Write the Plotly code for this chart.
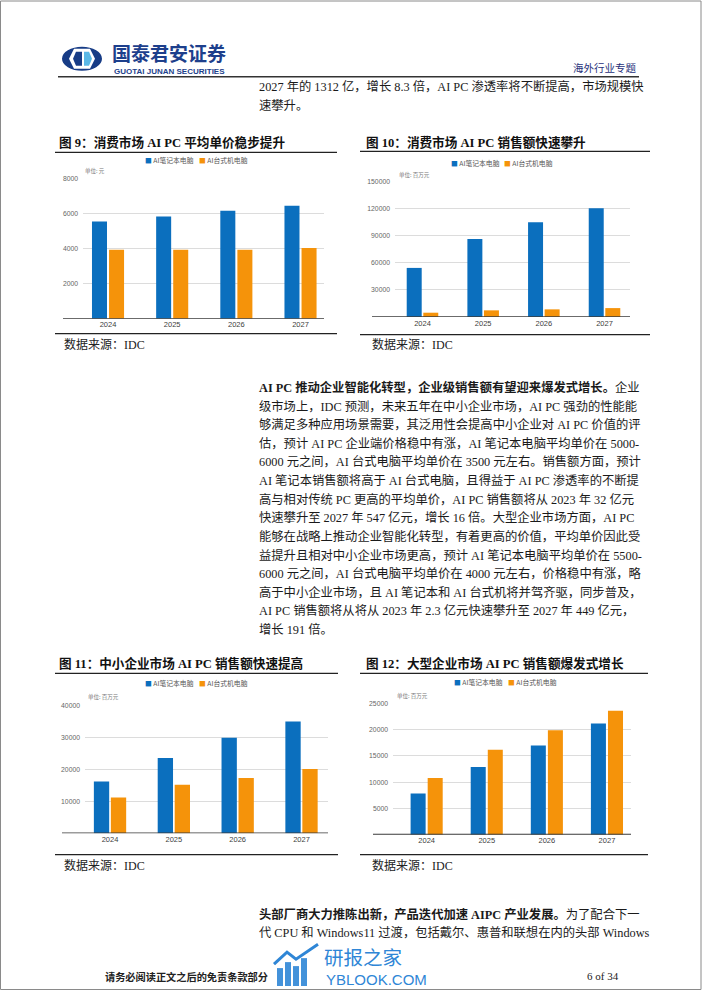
import plotly.graph_objects as go

W, H = 702, 991

# ---------------- data ----------------
years = ["2024", "2025", "2026", "2027"]
series_names = ["AI笔记本电脑", "AI台式机电脑"]

# 图9 消费市场平均单价 (元)
consumer_price_notebook = [5560, 5850, 6170, 6460]
consumer_price_desktop = [3940, 3940, 3940, 4040]
# 图10 消费市场销售额 (百万元)
consumer_sales_notebook = [54400, 86400, 105100, 120600]
consumer_sales_desktop = [4800, 7400, 8500, 9900]
# 图11 中小企业市场销售额 (百万元)
smb_sales_notebook = [16200, 23500, 29800, 34900]
smb_sales_desktop = [11200, 15200, 17300, 20100]
# 图12 大型企业市场销售额 (百万元)
large_sales_notebook = [7850, 12900, 17000, 21200]
large_sales_desktop = [10800, 16200, 19900, 23600]

ticks9 = [2000, 4000, 6000, 8000]
ticks10 = [30000, 60000, 90000, 120000, 150000]
ticks11 = [10000, 20000, 30000, 40000]
ticks12 = [5000, 10000, 15000, 20000, 25000]

BLUE = "#0B6FBE"
ORANGE = "#F5930A"
SERIF = "Liberation Serif, Noto Sans CJK SC"
SANS = "Noto Sans CJK SC, Liberation Sans"


def px(x):
    return x / W


def py(y):
    return 1 - y / H


fig = go.Figure()
annotations = []
shapes = []

charts = [
    dict(k="", nb=consumer_price_notebook, dt=consumer_price_desktop, ticks=ticks9, ymax=8000,
         xd=(83, 324), yd=(175.5, 316), xr=[-0.39, 3.366], w=0.234, g=0.016, base=(63, 324),
         title="图 9：消费市场 AI PC 平均单价稳步提升", tx=57, ty=139, rule=(55, 337, 149), bot=331, src=(62, 342),
         leg=(143, 197, 157), unit="单位: 元", ux=83, uy=168),
    dict(k="2", nb=consumer_sales_notebook, dt=consumer_sales_desktop, ticks=ticks10, ymax=150000,
         xd=(395, 630), yd=(178.3, 314.3), xr=[-0.453, 3.42], w=0.247, g=0.013, base=(372, 630),
         title="图 10：消费市场 AI PC 销售额快速攀升", tx=364, ty=139, rule=(360, 650, 148), bot=332, src=(370, 342),
         leg=(449, 502, 160), unit="单位: 百万元", ux=397, uy=172),
    dict(k="3", nb=smb_sales_notebook, dt=smb_sales_desktop, ticks=ticks11, ymax=40000,
         xd=(85, 328), yd=(704, 832.7), xr=[-0.392, 3.415], w=0.24, g=0.013, base=(62, 328),
         title="图 11：中小企业市场 AI PC 销售额快速提高", tx=57, ty=662, rule=(55, 338, 672), bot=854, src=(62, 865),
         leg=(143, 197, 682), unit="单位: 百万元", ux=86, uy=696),
    dict(k="4", nb=large_sales_notebook, dt=large_sales_desktop, ticks=ticks12, ymax=25000,
         xd=(393, 631), yd=(702.3, 834), xr=[-0.56, 3.4], w=0.25, g=0.017, base=(373, 631),
         title="图 12：大型企业市场 AI PC 销售额爆发式增长", tx=364, ty=662, rule=(360, 648, 672), bot=854, src=(370, 865),
         leg=(452, 506, 681), unit="单位: 百万元", ux=395, uy=695),
]

layout_axes = {}
for c in charts:
    k = c["k"]
    xa, ya = "x" + k, "y" + k
    fig.add_trace(go.Bar(x=years, y=c["nb"], name=series_names[0], xaxis=xa, yaxis=ya,
                         marker=dict(color=BLUE, line=dict(width=0)), width=c["w"],
                         offset=-c["w"] - c["g"], showlegend=False, hoverinfo="x+y"))
    fig.add_trace(go.Bar(x=years, y=c["dt"], name=series_names[1], xaxis=xa, yaxis=ya,
                         marker=dict(color=ORANGE, line=dict(width=0)), width=c["w"],
                         offset=c["g"], showlegend=False, hoverinfo="x+y"))
    layout_axes["xaxis" + k] = dict(
        domain=[px(c["xd"][0]), px(c["xd"][1])], range=c["xr"], anchor=ya,
        showgrid=False, showline=False, zeroline=False, ticks="", type="category",
        tickfont=dict(family="Liberation Sans", size=7.5, color="#404040"), fixedrange=True,
    )
    layout_axes["yaxis" + k] = dict(
        domain=[py(c["yd"][1]), py(c["yd"][0])], range=[0, c["ymax"]], anchor=xa,
        tickvals=c["ticks"], ticktext=[str(v) for v in c["ticks"]],
        showgrid=True, gridcolor="#dcdcdc", gridwidth=0.8, showline=False, zeroline=False,
        ticks="", ticklabelstandoff=4,
        tickfont=dict(family="Liberation Sans", size=6.8, color="#666666"), fixedrange=True,
    )
    shapes.append(dict(type="line", xref="paper", yref=ya, x0=px(c["base"][0]), x1=px(c["base"][1]),
                       y0=0, y1=0, line=dict(color="#3a3a3a", width=1.6)))
    annotations.append(dict(text="<b>" + c["title"] + "</b>", x=px(c["tx"]), y=py(c["ty"]),
                            xref="paper", yref="paper", xanchor="left", yanchor="middle", showarrow=False,
                            font=dict(family=SERIF, size=12.6, color="#111111")))
    r = c["rule"]
    shapes.append(dict(type="line", xref="paper", yref="paper", x0=px(r[0]), x1=px(r[1]),
                       y0=py(r[2]), y1=py(r[2]), line=dict(color="#222222", width=1.3)))
    shapes.append(dict(type="line", xref="paper", yref="paper", x0=px(r[0]), x1=px(r[1]),
                       y0=py(c["bot"]), y1=py(c["bot"]), line=dict(color="#222222", width=1.3)))
    annotations.append(dict(text="数据来源：IDC", x=px(c["src"][0]), y=py(c["src"][1]),
                            xref="paper", yref="paper", xanchor="left", yanchor="middle", showarrow=False,
                            font=dict(family=SERIF, size=12, color="#222222")))
    lx1, lx2, ly = c["leg"]
    for lx, col, nm in ((lx1, BLUE, series_names[0]), (lx2, ORANGE, series_names[1])):
        annotations.append(dict(text="<span style='color:%s'>■</span> %s" % (col, nm),
                                x=px(lx), y=py(ly), xref="paper", yref="paper", xanchor="left",
                                yanchor="middle", showarrow=False,
                                font=dict(family=SANS, size=6.8, color="#555555")))
    annotations.append(dict(text=c["unit"], x=px(c["ux"]), y=py(c["uy"]), xref="paper", yref="paper",
                            xanchor="left", yanchor="middle", showarrow=False,
                            font=dict(family=SANS, size=5.5, color="#777777")))

# ---------------- header ----------------
shapes.append(dict(type="circle", xref="paper", yref="paper", x0=px(62), x1=px(102), y0=py(67), y1=py(43),
                   fillcolor="#173c86", line=dict(width=0)))
shapes.append(dict(type="path", xref="paper", yref="paper",
                   path="M %f %f L %f %f L %f %f L %f %f L %f %f L %f %f Z" % (
                       px(74), py(45), px(90), py(45), px(95), py(55), px(90), py(65), px(74), py(65), px(69), py(55)),
                   fillcolor="white", line=dict(width=0)))
shapes.append(dict(type="path", xref="paper", yref="paper",
                   path="M %f %f L %f %f L %f %f L %f %f L %f %f Z" % (
                       px(76), py(48), px(82), py(48), px(82), py(62), px(76), py(62), px(73), py(55)),
                   fillcolor="#173c86", line=dict(width=0)))
shapes.append(dict(type="path", xref="paper", yref="paper",
                   path="M %f %f L %f %f L %f %f L %f %f L %f %f Z" % (
                       px(84), py(48), px(89), py(48), px(92), py(55), px(89), py(62), px(84), py(62)),
                   fillcolor="#5ab8e6", line=dict(width=0)))
annotations.append(dict(text="<b>国泰君安证券</b>", x=px(110), y=py(49), xref="paper", yref="paper",
                        xanchor="left", yanchor="middle", showarrow=False,
                        font=dict(family=SANS, size=19, color="#1d3f8c")))
annotations.append(dict(text="<b>GUOTAI JUNAN SECURITIES</b>", x=px(112), y=py(67.5), xref="paper", yref="paper",
                        xanchor="left", yanchor="middle", showarrow=False,
                        font=dict(family="Liberation Sans", size=8, color="#1d3f8c")))
annotations.append(dict(text="海外行业专题", x=px(639), y=py(64), xref="paper", yref="paper",
                        xanchor="right", yanchor="middle", showarrow=False,
                        font=dict(family=SANS, size=10.5, color="#26307a")))
shapes.append(dict(type="line", xref="paper", yref="paper", x0=px(58), x1=px(639), y0=py(73), y1=py(73),
                   line=dict(color="#333333", width=1.5)))

# ---------------- body text ----------------
body_font = dict(family=SERIF, size=12.3, color="#1a1a1a")
TX = 257
top_lines = [
    "2027 年的 1312 亿，增长 8.3 倍，AI PC 渗透率将不断提高，市场规模快",
    "速攀升。",
]
for i, t in enumerate(top_lines):
    annotations.append(dict(text=t, x=px(TX), y=py(83 + 19 * i), xref="paper", yref="paper",
                            xanchor="left", yanchor="middle", showarrow=False, font=body_font))

para_lines = [
    "<b>AI PC 推动企业智能化转型，企业级销售额有望迎来爆发式增长。</b>企业",
    "级市场上，IDC 预测，未来五年在中小企业市场，AI PC 强劲的性能能",
    "够满足多种应用场景需要，其泛用性会提高中小企业对 AI PC 价值的评",
    "估，预计 AI PC 企业端价格稳中有涨，AI 笔记本电脑平均单价在 5000-",
    "6000 元之间，AI 台式电脑平均单价在 3500 元左右。销售额方面，预计",
    "AI 笔记本销售额将高于 AI 台式电脑，且得益于 AI PC 渗透率的不断提",
    "高与相对传统 PC 更高的平均单价，AI PC 销售额将从 2023 年 32 亿元",
    "快速攀升至 2027 年 547 亿元，增长 16 倍。大型企业市场方面，AI PC",
    "能够在战略上推动企业智能化转型，有着更高的价值，平均单价因此受",
    "益提升且相对中小企业市场更高，预计 AI 笔记本电脑平均单价在 5500-",
    "6000 元之间，AI 台式电脑平均单价在 4000 元左右，价格稳中有涨，略",
    "高于中小企业市场，且 AI 笔记本和 AI 台式机将并驾齐驱，同步普及，",
    "AI PC 销售额将从将从 2023 年 2.3 亿元快速攀升至 2027 年 449 亿元，",
    "增长 191 倍。",
]
for i, t in enumerate(para_lines):
    annotations.append(dict(text=t, x=px(TX), y=py(385 + 18.7 * i), xref="paper", yref="paper",
                            xanchor="left", yanchor="middle", showarrow=False, font=body_font))

bottom_lines = [
    "<b>头部厂商大力推陈出新，产品迭代加速 AIPC 产业发展。</b>为了配合下一",
    "代 CPU 和 Windows11 过渡，包括戴尔、惠普和联想在内的头部 Windows",
]
for i, t in enumerate(bottom_lines):
    annotations.append(dict(text=t, x=px(TX), y=py(914 + 18.3 * i), xref="paper", yref="paper",
                            xanchor="left", yanchor="middle", showarrow=False, font=body_font))

# ---------------- footer ----------------
annotations.append(dict(text="<b>请务必阅读正文之后的免责条款部分</b>", x=px(103), y=py(976), xref="paper", yref="paper",
                        xanchor="left", yanchor="middle", showarrow=False,
                        font=dict(family=SANS, size=10.2, color="#222222")))
annotations.append(dict(text="6 of 34", x=px(621), y=py(976), xref="paper", yref="paper",
                        xanchor="right", yanchor="middle", showarrow=False,
                        font=dict(family=SERIF, size=11, color="#222222")))
# watermark
WM = "#2f86d6"
for (x0, y0) in ((277, 968), (285, 962), (293, 966), (301, 958)):
    shapes.append(dict(type="rect", xref="paper", yref="paper", x0=px(x0), x1=px(x0 + 6),
                       y0=py(986), y1=py(y0), fillcolor=WM, line=dict(width=0), opacity=0.9))
shapes.append(dict(type="path", xref="paper", yref="paper",
                   path="M %f %f L %f %f L %f %f L %f %f" % (px(274), py(964), px(287), py(952), px(296), py(959),
                                                             px(318), py(944)),
                   line=dict(color=WM, width=3)))
annotations.append(dict(text="研报之家", x=px(322), y=py(956), xref="paper", yref="paper",
                        xanchor="left", yanchor="middle", showarrow=False,
                        font=dict(family=SANS, size=19.5, color=WM)))
annotations.append(dict(text="YBLOOK.COM", x=px(324), y=py(979), xref="paper", yref="paper",
                        xanchor="left", yanchor="middle", showarrow=False,
                        font=dict(family="Liberation Sans", size=15, color=WM)))

# page frame
shapes.append(dict(type="rect", xref="paper", yref="paper", x0=px(0.5), x1=px(701), y0=py(989.5), y1=py(-3),
                   line=dict(color="#8a8a8a", width=1), fillcolor="rgba(0,0,0,0)"))

fig.update_layout(
    width=W, height=H, margin=dict(l=0, r=0, t=0, b=0),
    paper_bgcolor="white", plot_bgcolor="white",
    barmode="group", showlegend=False,
    annotations=annotations, shapes=shapes,
    **layout_axes,
)

fig.write_html("out.html", config=dict(displayModeBar=False),
               post_script="document.body.style.margin='0px';document.body.style.overflow='hidden';")
